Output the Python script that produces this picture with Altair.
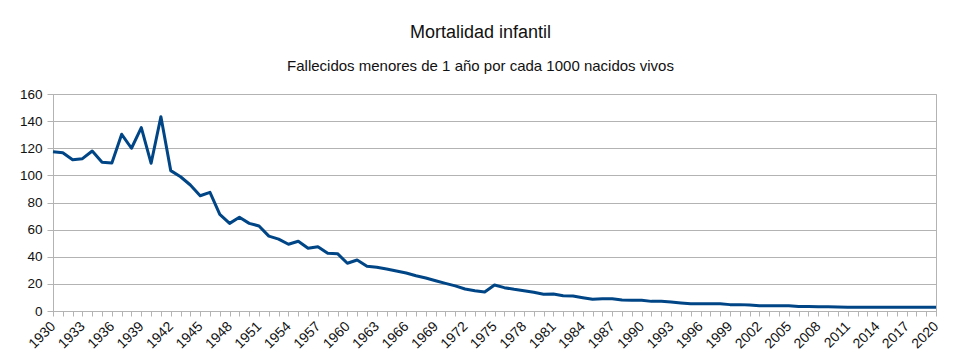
import altair as alt
import pandas as pd

years = list(range(1930, 2021))
mortality = [
    117.5, 116.7, 111.5, 112.3, 118.0, 109.7, 109.2, 130.3, 120.0, 135.2,
    108.9, 143.3, 103.5, 99.0, 92.9, 85.0, 87.5, 71.3, 64.6, 69.1,
    64.6, 62.7, 55.2, 53.0, 49.2, 51.4, 46.2, 47.4, 42.5, 42.3,
    35.2, 37.6, 33.0, 32.2, 31.0, 29.5, 28.0, 26.0, 24.3, 22.3,
    20.4, 18.5, 16.2, 15.0, 14.0, 19.2, 17.2, 16.0, 15.0, 13.8,
    12.3, 12.5, 11.3, 11.0, 9.8, 8.6, 9.0, 9.0, 8.1, 7.9,
    7.9, 7.1, 7.1, 6.6, 5.9, 5.3, 5.4, 5.4, 5.3, 4.7,
    4.7, 4.4, 3.9, 3.8, 3.8, 3.9, 3.3, 3.3, 3.2, 3.1,
    3.0, 2.8, 2.8, 2.7, 2.7, 2.7, 2.7, 2.7, 2.7, 2.7, 2.7,
]
y_ticks = [0, 20, 40, 60, 80, 100, 120, 140, 160]

df = pd.DataFrame({"year": years, "value": mortality})

FONT = "Liberation Sans"

chart = (
    alt.Chart(df)
    .mark_line(color="#004586", strokeWidth=3, strokeJoin="round")
    .encode(
        x=alt.X(
            "year:Q",
            scale=alt.Scale(domain=[1930, 2020], nice=False, zero=False),
            axis=alt.Axis(
                title=None,
                values=years,
                labelExpr="(datum.value - 1930) % 3 == 0 ? datum.label : ''",
                format="d",
                labelAngle=-45,
                labelAlign="right",
                labelBaseline="middle",
                labelOverlap=False,
                labelFont=FONT,
                labelFontSize=14,
                labelColor="#111111",
                labelPadding=8,
                grid=False,
                domainColor="#b3b3b3",
                tickColor="#b3b3b3",
                tickSize=5,
            ),
        ),
        y=alt.Y(
            "value:Q",
            scale=alt.Scale(domain=[0, 160], nice=False),
            axis=alt.Axis(
                title=None,
                values=y_ticks,
                labelFont=FONT,
                labelFontSize=13.5,
                labelColor="#111111",
                labelPadding=5,
                gridColor="#b3b3b3",
                domainColor="#b3b3b3",
                tickColor="#b3b3b3",
                tickSize=6,
            ),
        ),
    )
    .properties(
        width=883,
        height=217,
        autosize=alt.AutoSizeParams(type="none"),
        padding={"left": 45, "top": 86, "right": 10, "bottom": 40},
        title=alt.TitleParams(
            text="Mortalidad infantil",
            subtitle="Fallecidos menores de 1 año por cada 1000 nacidos vivos",
            font=FONT,
            fontSize=18,
            fontWeight="normal",
            color="#111111",
            subtitleFont=FONT,
            subtitleFontSize=15,
            subtitleColor="#111111",
            subtitlePadding=17,
            anchor="middle",
            offset=13,
            dx=-14,
        ),
    )
    .configure_view(stroke="#b3b3b3", strokeWidth=1)
)

chart.save("out.html", embed_options={"renderer": "svg", "actions": False})
